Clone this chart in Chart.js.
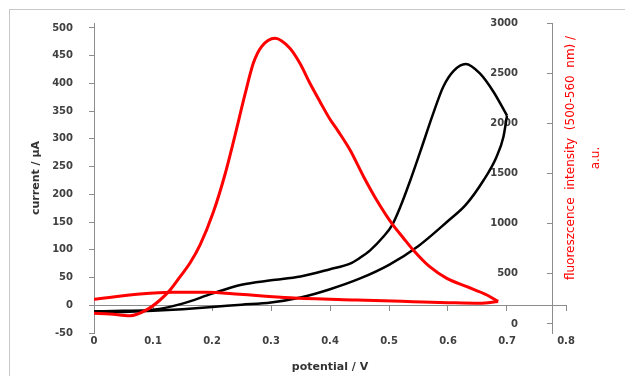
<!DOCTYPE html>
<html>
<head>
<meta charset="utf-8">
<script src="https://cdn.jsdelivr.net/npm/chart.js@4.4.1/dist/chart.umd.min.js"></script>
<style>
  html, body { margin: 0; padding: 0; background: #fff; overflow: hidden; }
  #wrap { position: relative; width: 625px; height: 376px; }
  #frame { position: absolute; left: 9px; top: 9px; width: 640px; height: 400px; border: 1px solid #c8c8c8; }
  canvas { position: absolute; left: 0; top: 0; }
</style>
</head>
<body>
<div id="wrap">
  <div id="frame"></div>
  <canvas id="cvChart" width="625" height="376"></canvas>
</div>
<script>
// cyclic voltammogram (left axis): anodic sweep with the peak, then the return sweep
const cvFwdPotential = [0, 0.05, 0.1, 0.15, 0.2, 0.25, 0.3, 0.35, 0.4, 0.434, 0.45, 0.468, 0.49, 0.505, 0.519, 0.536, 0.553, 0.575, 0.592, 0.61, 0.63, 0.654, 0.677, 0.7];
const cvFwdCurrent = [-11, -10, -8, 3, 21, 37, 45, 52, 65, 75, 85, 99, 123, 144, 177, 225, 277, 346, 394, 423, 435, 418, 385, 342];
const cvRevPotential = [0, 0.05, 0.1, 0.15, 0.2, 0.25, 0.3, 0.35, 0.4, 0.45, 0.5, 0.55, 0.6, 0.63, 0.66, 0.682, 0.694, 0.7];
const cvRevCurrent = [-13, -12, -10, -7, -3, 1, 5, 14, 29, 48, 73, 107, 152, 181, 225, 267, 304, 342];

// fluorescence intensity (right axis)
const flFwdPotential = [0, 0.027, 0.061, 0.089, 0.112, 0.129, 0.146, 0.163, 0.18, 0.202, 0.222, 0.239, 0.256, 0.27, 0.284, 0.307, 0.332, 0.349, 0.366,
                        0.383, 0.4, 0.414, 0.434, 0.457, 0.479, 0.505, 0.524, 0.541, 0.569, 0.598, 0.632, 0.666, 0.685];
const flFwdIntensity = [107, 100, 82, 140, 239, 339, 472, 610, 790, 1110, 1490, 1880, 2290, 2598, 2764, 2848, 2748, 2598, 2399,
                        2216, 2040, 1920, 1734, 1468, 1236, 1000, 860, 738, 571, 455, 372, 289, 225];
const flRevPotential = [0, 0.078, 0.134, 0.191, 0.247, 0.332, 0.445, 0.541, 0.6, 0.654, 0.685];
const flRevIntensity = [246, 299, 316, 316, 296, 262, 239, 222, 212, 206, 225];

const leftTicks = [-50, 0, 50, 100, 150, 200, 250, 300, 350, 400, 450, 500];
const rightTicks = [0, 500, 1000, 1500, 2000, 2500, 3000];

const xTitle = 'potential / V';
const leftTitle = 'current / µA';
const rightTitle = ['fluoreszcence  intensity  (500-560  nm) /', 'a.u.'];

const axisColor = '#8c8c8c';
const labelColor = '#404040';
const tickFont = { family: 'DejaVu Sans', size: 10, weight: 'bold' };

const toPoints = (xs, ys) => xs.map((x, i) => ({ x: x, y: ys[i] }));
const setTicks = values => scale => { scale.ticks = values.map(v => ({ value: v })); };

function curve(xs, ys, color, width, yAxis) {
    return {
        data: toPoints(xs, ys),
        borderColor: color,
        borderWidth: width,
        pointRadius: 0,
        cubicInterpolationMode: 'monotone',
        xAxisID: 'x',
        yAxisID: yAxis
    };
}

const data = {
    datasets: [
        curve(flFwdPotential, flFwdIntensity, '#ff0000', 3, 'yr'),
        curve(flRevPotential, flRevIntensity, '#ff0000', 3, 'yr'),
        curve(cvFwdPotential, cvFwdCurrent, '#000000', 2.5, 'y'),
        curve(cvRevPotential, cvRevCurrent, '#000000', 2.5, 'y')
    ]
};

// right-hand title, drawn bottom-to-top like the original
const rightTitlePlugin = {
    id: 'rightTitle',
    afterDraw(chart) {
        const ctx = chart.ctx;
        const area = chart.chartArea;
        ctx.save();
        ctx.translate(area.right + 5, area.top + 135);
        ctx.rotate(-Math.PI / 2);
        ctx.fillStyle = '#ff0000';
        ctx.font = '12px "DejaVu Sans"';
        ctx.textAlign = 'center';
        ctx.textBaseline = 'middle';
        ctx.fillText(rightTitle[0], 0, 0);
        ctx.fillText(rightTitle[1], 0, 25);
        ctx.restore();
    }
};

const config = {
    type: 'line',
    data: data,
    plugins: [rightTitlePlugin],
    options: {
        responsive: false,
        animation: false,
        layout: { padding: { left: 26, right: 59, top: 23, bottom: 0 } },
        plugins: {
            legend: { display: false },
            tooltip: { enabled: false }
        },
        scales: {
            x: {
                type: 'linear',
                position: { y: 0 },
                min: 0,
                max: 0.8,
                ticks: { display: false, stepSize: 0.1 },
                grid: { drawOnChartArea: false, tickLength: 5, color: axisColor },
                border: { color: axisColor }
            },
            xl: {
                type: 'linear',
                position: 'bottom',
                min: 0,
                max: 0.8,
                ticks: { stepSize: 0.1, padding: 2, color: labelColor, font: tickFont, maxRotation: 0 },
                grid: { display: false, drawTicks: false },
                border: { display: false },
                title: { display: true, text: xTitle, color: '#333', font: { family: 'DejaVu Sans', size: 11, weight: 'bold' }, padding: { top: 0, bottom: 2 } },
                afterFit: s => { s.height = 43; }
            },
            y: {
                type: 'linear',
                position: 'left',
                min: -50,
                max: 509,
                afterBuildTicks: setTicks(leftTicks),
                ticks: { padding: 16, color: labelColor, font: tickFont },
                grid: { drawOnChartArea: false, tickLength: 5, color: axisColor },
                border: { color: axisColor },
                title: { display: true, text: leftTitle, color: '#333', font: { family: 'DejaVu Sans', size: 11, weight: 'bold' }, padding: { top: 4, bottom: 4 } },
                afterFit: s => { s.width = 68; }
            },
            yr: {
                type: 'linear',
                position: { x: 0.7763 },
                min: -90,
                max: 3000,
                afterBuildTicks: setTicks(rightTicks),
                ticks: { display: false },
                grid: { drawOnChartArea: false, tickLength: 5, color: axisColor },
                border: { color: axisColor }
            },
            yrl: {
                type: 'linear',
                position: { x: 0.7187 },
                min: -90,
                max: 3000,
                afterBuildTicks: setTicks(rightTicks),
                ticks: { color: labelColor, font: tickFont, callback: v => String(v) },
                grid: { display: false, drawTicks: false },
                border: { display: false }
            }
        }
    }
};

window.onload = function() {
    const ctx = document.getElementById('cvChart').getContext('2d');
    new Chart(ctx, config);
};
</script>
</body>
</html>
